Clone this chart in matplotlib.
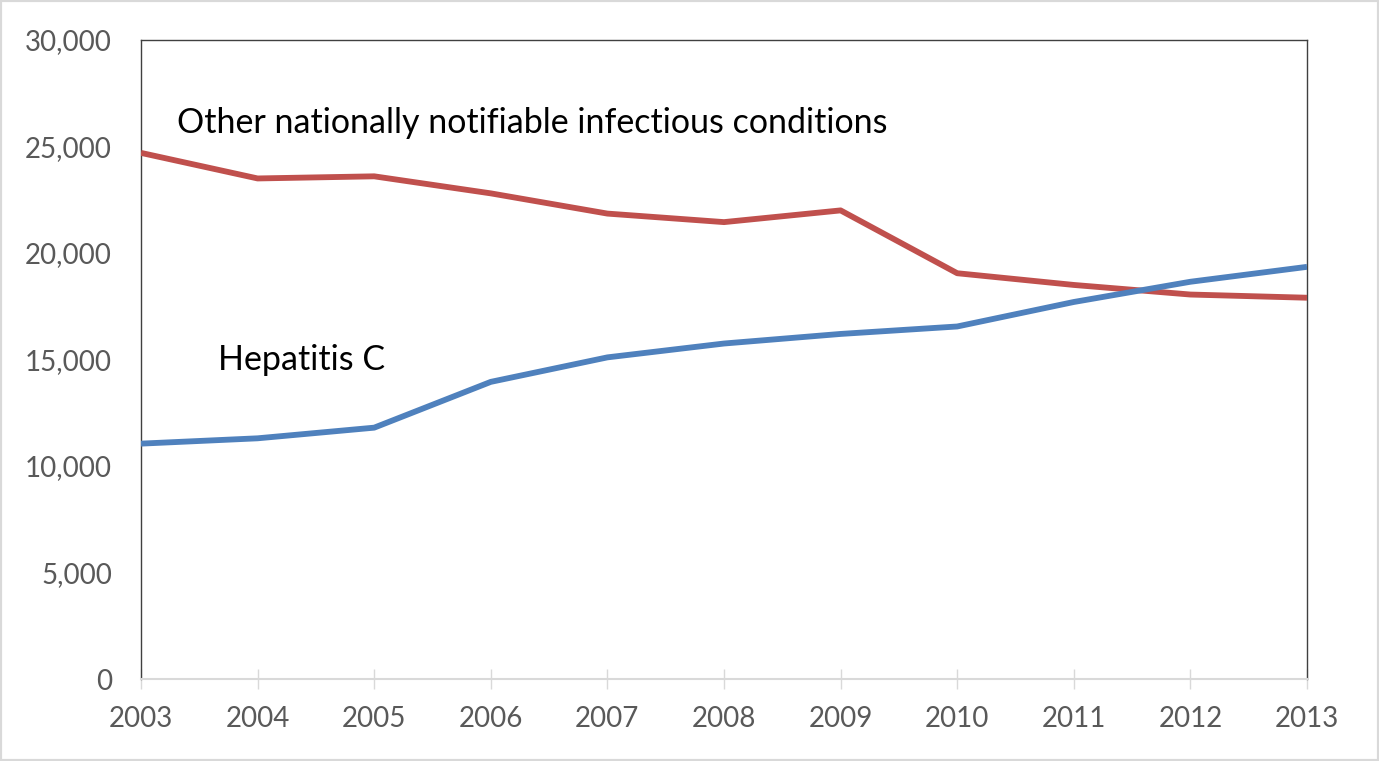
import matplotlib
matplotlib.use("Agg")
import matplotlib.pyplot as plt
from matplotlib.patches import Rectangle

years = [2003, 2004, 2005, 2006, 2007, 2008, 2009, 2010, 2011, 2012, 2013]
other_conditions = [24700, 23500, 23600, 22800, 21850, 21450, 22000, 19050, 18500, 18050, 17900]
hepatitis_c = [11050, 11300, 11800, 13950, 15100, 15750, 16200, 16550, 17700, 18650, 19350]
y_ticks = [0, 5000, 10000, 15000, 20000, 25000, 30000]
y_tick_labels = ["0", "5,000", "10,000", "15,000", "20,000", "25,000", "30,000"]

plt.rcParams['font.family'] = ['Lato', 'DejaVu Sans']

W, H = 1379, 761
fig = plt.figure(figsize=(W / 100, H / 100), dpi=100)
fig.patches.append(Rectangle((0, 0), 1, 1, transform=fig.transFigure, fill=False,
                             edgecolor='#d9d9d9', linewidth=3))
ax = fig.add_axes([141 / W, 1 - 679 / H, (1307 - 141) / W, (679 - 40) / H])

ax.plot(years, other_conditions, color='#C0504D', linewidth=4.2, solid_capstyle='butt', zorder=3)
ax.plot(years, hepatitis_c, color='#4F81BD', linewidth=4.2, solid_capstyle='butt', zorder=3)

ax.set_xlim(2003, 2013)
ax.set_ylim(0, 30000)
ax.set_xticks(years)
ax.set_xticklabels([str(y) for y in years])
ax.set_yticks(y_ticks)
ax.set_yticklabels(y_tick_labels)

for s in ['left', 'top', 'right']:
    ax.spines[s].set_color('#404040')
    ax.spines[s].set_linewidth(1.0)
ax.spines['bottom'].set_color('#d9d9d9')
ax.spines['bottom'].set_linewidth(1.5)
ax.spines['bottom'].set_zorder(4)

ax.tick_params(axis='x', direction='inout', length=14.5, width=1.0, color='#d9d9d9',
               labelsize=20, labelcolor='#595959', pad=12)
ax.tick_params(axis='y', length=0, labelsize=20, labelcolor='#595959', pad=21)

ax.text(2003.31, 26100, "Other nationally notifiable infectious conditions",
        fontsize=24.5, color='black', va='center', ha='left')
ax.text(2003.66, 15000, "Hepatitis C", fontsize=24.5, color='black', va='center', ha='left')

fig.savefig("out.png", dpi=100)
